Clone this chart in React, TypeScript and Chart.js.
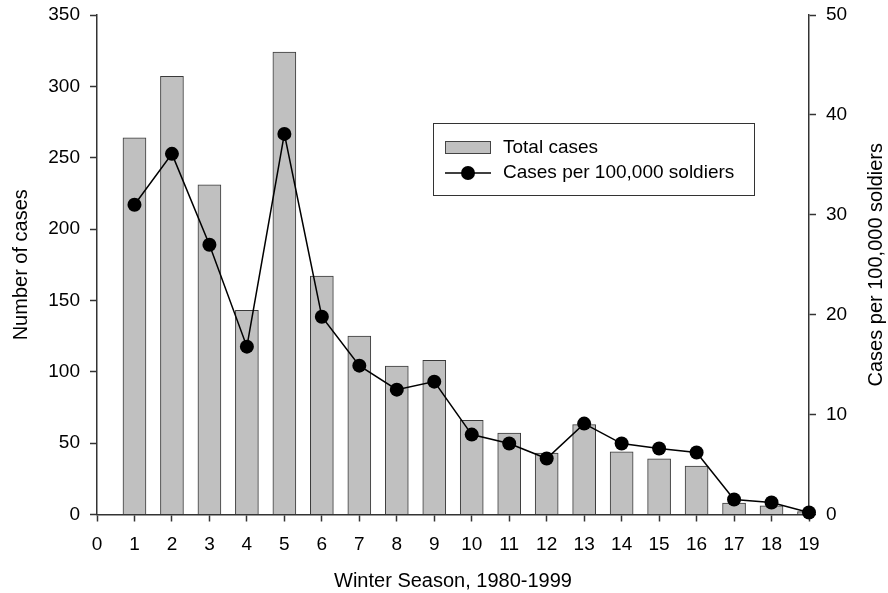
import React, { useEffect, useRef } from 'react';
import { Chart, registerables } from 'chart.js';

Chart.register(...registerables);

// ---- data ----
const seasons = [1, 2, 3, 4, 5, 6, 7, 8, 9, 10, 11, 12, 13, 14, 15, 16, 17, 18, 19];
const totalCases = [264, 307, 231, 143, 324, 167, 125, 104, 108, 66, 57, 43, 63, 44, 39, 34, 8, 6, 2];
const ratePer100k = [31.0, 36.1, 27.0, 16.8, 38.1, 19.8, 14.9, 12.5, 13.3, 8.0, 7.1, 5.6, 9.1, 7.1, 6.6, 6.2, 1.5, 1.2, 0.2];
const xRange = [0, 19];
const leftRange = [0, 350];
const rightRange = [0, 50];
const legendLabels = ['Total cases', 'Cases per 100,000 soldiers'];
const xTitle = 'Winter Season, 1980-1999';
const leftTitle = 'Number of cases';
const rightTitle = 'Cases per 100,000 soldiers';

const FONT = "'Liberation Sans', Arial, Helvetica, sans-serif";
const AXIS = '#333333';
const BAR_FILL = '#c0c0c0';
const BAR_EDGE = '#3a3a3a';

const overlayPlugin = {
  id: 'overlay',
  afterDraw(chart: any) {
    const { ctx, chartArea } = chart;
    ctx.save();
    // right axis title, reading bottom-to-top
    ctx.fillStyle = '#000';
    ctx.font = `20px ${FONT}`;
    ctx.textAlign = 'center';
    ctx.textBaseline = 'middle';
    ctx.translate(876, (chartArea.top + chartArea.bottom) / 2);
    ctx.rotate(-Math.PI / 2);
    ctx.fillText(rightTitle, 0, 0);
    ctx.restore();

    // legend box
    ctx.save();
    const bx = 433.5, by = 123.5, bw = 321, bh = 72;
    ctx.fillStyle = '#fff';
    ctx.fillRect(bx, by, bw, bh);
    ctx.strokeStyle = '#333';
    ctx.lineWidth = 1;
    ctx.strokeRect(bx, by, bw, bh);
    // row 1: bar swatch
    ctx.fillStyle = BAR_FILL;
    ctx.fillRect(445.5, 141.5, 45, 12);
    ctx.strokeStyle = '#444';
    ctx.strokeRect(445.5, 141.5, 45, 12);
    ctx.fillStyle = '#000';
    ctx.font = `19px ${FONT}`;
    ctx.textAlign = 'left';
    ctx.textBaseline = 'middle';
    ctx.fillText(legendLabels[0], 503, 147.5);
    // row 2: line + dot
    ctx.strokeStyle = '#000';
    ctx.lineWidth = 1.5;
    ctx.beginPath();
    ctx.moveTo(445, 173);
    ctx.lineTo(491, 173);
    ctx.stroke();
    ctx.beginPath();
    ctx.arc(468, 173, 7, 0, Math.PI * 2);
    ctx.fillStyle = '#000';
    ctx.fill();
    ctx.fillText(legendLabels[1], 503, 172.5);
    ctx.restore();
  },
};

export default function App() {
  const ref = useRef<HTMLCanvasElement | null>(null);

  useEffect(() => {
    if (!ref.current) return;
    const tickFont = { family: FONT, size: 19 };
    const titleFont = { family: FONT, size: 20 };
    const chart = new Chart(ref.current, {
      type: 'bar',
      data: {
        datasets: [
          {
            type: 'line',
            label: legendLabels[1],
            data: seasons.map((s, i) => ({ x: s, y: ratePer100k[i] })),
            yAxisID: 'y1',
            xAxisID: 'x',
            borderColor: '#000',
            borderWidth: 1.5,
            backgroundColor: '#000',
            pointRadius: 7,
            pointBackgroundColor: '#000',
            pointBorderColor: '#000',
            pointBorderWidth: 0,
            tension: 0,
            clip: false,
            order: 0,
          } as any,
          {
            type: 'bar',
            label: legendLabels[0],
            data: seasons.map((s, i) => ({ x: s, y: totalCases[i] })),
            yAxisID: 'y',
            xAxisID: 'x',
            backgroundColor: BAR_FILL,
            borderColor: BAR_EDGE,
            borderWidth: 1,
            barThickness: 23,
            order: 1,
          } as any,
        ],
      },
      options: {
        responsive: true,
        maintainAspectRatio: false,
        animation: false,
        layout: { padding: { top: 15, left: 0, right: 0, bottom: 0 } },
        plugins: {
          legend: { display: false },
          tooltip: { enabled: false },
        },
        scales: {
          x: {
            type: 'linear',
            position: 'bottom',
            min: xRange[0],
            max: xRange[1],
            offset: false,
            grid: {
              display: true,
              offset: false,
              drawOnChartArea: false,
              drawTicks: true,
              tickLength: 7,
              tickColor: AXIS,
              tickWidth: 1.5,
            },
            border: { display: true, color: AXIS, width: 1.5 },
            ticks: { stepSize: 1, color: '#000', font: tickFont, padding: 12, maxRotation: 0, autoSkip: false },
            title: { display: true, text: xTitle, color: '#000', font: titleFont, padding: { top: 0, bottom: 0 } },
            afterFit(scale: any) {
              scale.height = 78.5;
              scale.paddingLeft = 0;
              scale.paddingRight = 0;
            },
          },
          y: {
            type: 'linear',
            position: 'left',
            min: leftRange[0],
            max: leftRange[1],
            grid: {
              display: true,
              drawOnChartArea: false,
              drawTicks: true,
              tickLength: 7,
              tickColor: AXIS,
              tickWidth: 1.5,
            },
            border: { display: true, color: AXIS, width: 1.5 },
            ticks: { stepSize: 50, color: '#000', font: tickFont, padding: 10 },
            title: { display: true, text: leftTitle, color: '#000', font: titleFont, padding: { top: 9, bottom: 0 } },
            afterFit(scale: any) {
              scale.width = 97;
              scale.paddingTop = 0;
              scale.paddingBottom = 0;
            },
          },
          y1: {
            type: 'linear',
            position: 'right',
            min: rightRange[0],
            max: rightRange[1],
            grid: {
              display: true,
              drawOnChartArea: false,
              drawTicks: true,
              tickLength: 7,
              tickColor: AXIS,
              tickWidth: 1.5,
            },
            border: { display: true, color: AXIS, width: 1.5 },
            ticks: { stepSize: 10, color: '#000', font: tickFont, padding: 10 },
            title: { display: false },
            afterFit(scale: any) {
              scale.width = 79;
              scale.paddingTop = 0;
              scale.paddingBottom = 0;
            },
          },
        },
      } as any,
      plugins: [overlayPlugin],
    });
    return () => chart.destroy();
  }, []);

  return (
    <div style={{ position: 'absolute', left: 0, top: 0, width: 888, height: 593, background: '#fff' }}>
      <canvas ref={ref} />
    </div>
  );
}
